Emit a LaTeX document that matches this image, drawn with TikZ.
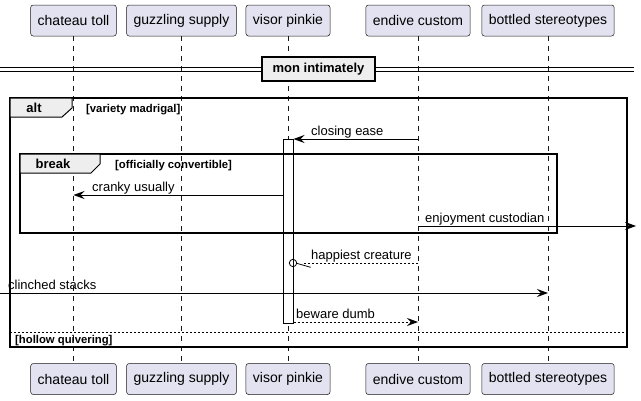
\documentclass[tikz,border=0pt]{standalone}
\usepackage{fontspec}
\setmainfont{Liberation Sans}
\usetikzlibrary{arrows.meta}
\definecolor{partfill}{HTML}{E2E2F0}
\definecolor{partline}{HTML}{181818}
\definecolor{tabfill}{HTML}{EEEEEE}

\begin{document}
\begin{tikzpicture}[x=1pt, y=-1pt,
	part/.style={draw=partline, fill=partfill, line width=0.5pt, rounded corners=2.5pt,
		minimum height=31pt, inner xsep=7pt, font=\fontsize{14}{16}\selectfont},
	life/.style={draw=partline, line width=0.5pt, dash pattern=on 5pt off 5pt},
	msg/.style={line width=0.8pt, -{Stealth[length=11pt, width=8pt, inset=4pt]}},
	ret/.style={msg, dash pattern=on 2pt off 2pt},
	lbl/.style={font=\fontsize{13}{15}\selectfont, inner sep=0pt, anchor=base west},
	tabtxt/.style={font=\bfseries\fontsize{13}{15}\selectfont, inner sep=0pt, anchor=base},
	cond/.style={font=\bfseries\fontsize{11.3}{13}\selectfont, inner sep=0pt, anchor=base west},
	frame/.style={draw, line width=1.5pt},
	tab/.style={draw, line width=1pt, fill=tabfill}]
	\useasboundingbox (0,0) rectangle (641,400);

		\node[part] at (73.5, 20.5) (ct) {chateau toll};
		\node[part] at (181.5, 20.5) (gs) {guzzling supply};
		\node[part] at (288, 20.5) (vp) {visor pinkie};
		\node[part] at (418, 20.5) (ec) {endive custom};
		\node[part] at (548, 20.5) (bs) {bottled stereotypes};

		\node[part] at (73.5, 379) (ctb) {chateau toll};
		\node[part] at (181.5, 379) (gsb) {guzzling supply};
		\node[part] at (288, 379) (vpb) {visor pinkie};
		\node[part] at (418, 379) (ecb) {endive custom};
		\node[part] at (548, 379) (bsb) {bottled stereotypes};

		\draw [life](ct) -- (ctb);
		\draw [life](gs) -- (gsb);
		\draw [life](vp) -- (vpb);
		\draw [life](ec) -- (ecb);
		\draw [life](bs) -- (bsb);

		\draw [line width=1pt](0,67) -- (634,67);
		\draw [line width=1pt](0,71) -- (634,71);
		\node[draw, line width=1.5pt, fill=tabfill, minimum width=113pt, minimum height=24pt,
			font=\bfseries\fontsize{13}{15}\selectfont] at (318.5, 69) (div) {mon intimately};

		\node[draw, line width=1pt, fill=white, minimum width=10pt, minimum height=184pt,
			inner sep=0pt] at (288, 231) (act) {};

		\draw [frame](10,98) rectangle (627,347);
		\draw [tab](10,98) -- (72,98) -- (72,108) -- (62,117) -- (10,117) -- cycle;
		\node[tabtxt] at (34, 112.5) (alt) {alt};
		\node[cond] at (86, 112.5) (altc) {[variety madrigal]};
		\draw [line width=0.8pt, dash pattern=on 2pt off 2pt](10,332) -- (627,332);
		\node[cond] at (15, 343.5) (elsec) {[hollow quivering]};

		\draw [frame](20,154) rectangle (557,233);
		\draw [tab](20,154) -- (100,154) -- (100,164) -- (91,173) -- (20,173) -- cycle;
		\node[tabtxt] at (53, 168) (brk) {break};
		\node[cond] at (115, 168) (brkc) {[officially convertible]};

		\coordinate (rightend) at (636, 226);
		\coordinate (leftend) at (0, 293);
		\coordinate (lolly) at (293, 263);

		\draw [msg](ec |- 0,139) -- (act.east |- 0,139);
		\node[lbl] at (311, 135) (m1) {closing ease};
		\draw [msg](act.west |- 0,195) -- (ct |- 0,195);
		\node[lbl] at (92, 191) (m2) {cranky usually};
		\draw [msg](ec |- rightend) -- (rightend);
		\node[lbl] at (425, 222) (m3) {enjoyment custodian};
		\draw [line width=0.8pt, dash pattern=on 2pt off 2pt](ec |- lolly) -- (303, 263);
		\draw [line width=0.8pt](lolly) circle (3.7);
		\draw [line width=0.8pt](296.7, 263.3) -- (310.7, 267.3);
		\node[lbl] at (311, 259) (m4) {happiest creature};
		\draw [msg](leftend) -- (bs |- leftend);
		\node[lbl] at (8, 289) (m5) {clinched stacks};
		\draw [ret](act.east |- 0,322) -- (ec |- 0,322);
		\node[lbl] at (296, 318) (m6) {beware dumb};

	\end{tikzpicture}
\end{document}
